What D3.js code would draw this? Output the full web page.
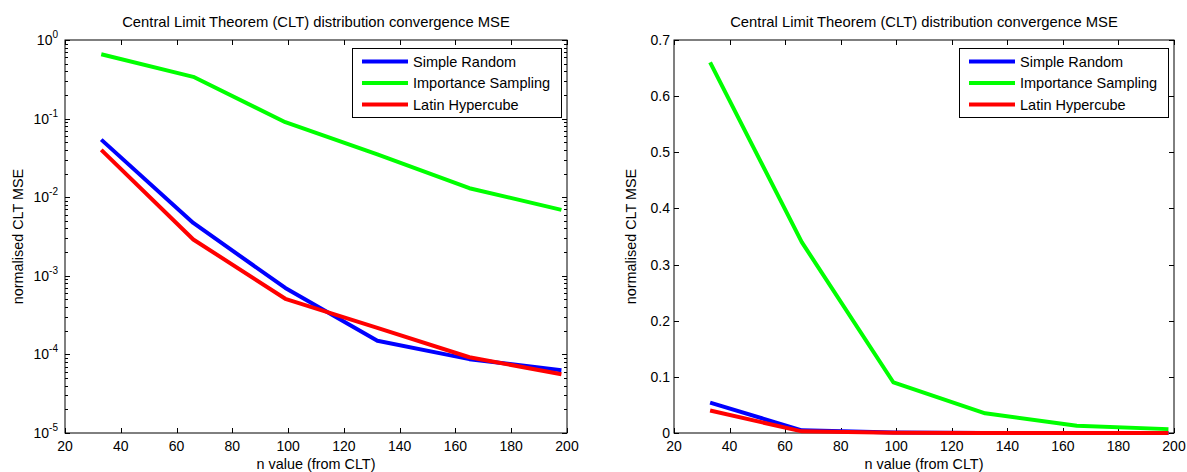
<!DOCTYPE html>
<html>
<head>
<meta charset="utf-8">
<script src="https://cdn.jsdelivr.net/npm/d3@7"></script>
<style>
  body { margin: 0; background: #fff; }
  svg { display: block; font-family: "Liberation Sans", Arial, sans-serif; }
</style>
</head>
<body>
<svg id="chart" width="1187" height="472"></svg>
<script>
// data
var nValues = [33, 66, 99, 132, 165, 198];
var simpleRandom = [0.054, 0.0047, 0.00070, 0.000149, 0.000087, 0.000063];
var importanceSampling = [0.66, 0.34, 0.090, 0.035, 0.013, 0.0069];
var latinHypercube = [0.040, 0.0029, 0.00051, 0.000217, 0.000092, 0.000056];

var seriesNames = ['Simple Random', 'Importance Sampling', 'Latin Hypercube'];
var seriesColors = ['#0000ff', '#00ff00', '#ff0000'];
var seriesValues = [simpleRandom, importanceSampling, latinHypercube];

var xTicks = [20, 40, 60, 80, 100, 120, 140, 160, 180, 200];
var logTicks = [1e-5, 1e-4, 1e-3, 1e-2, 1e-1, 1];
var linTicks = [0, 0.1, 0.2, 0.3, 0.4, 0.5, 0.6, 0.7];

var titleText = 'Central Limit Theorem (CLT) distribution convergence MSE';
var xLabel = 'n value (from CLT)';
var yLabel = 'normalised CLT MSE';

var svg = d3.select('#chart');

function drawPanel(left, right, isLog) {
    var top = 40, bottom = 433;
    var g = svg.append('g');

    var x = d3.scaleLinear().domain([20, 200]).range([left, right]);
    var y = isLog
        ? d3.scaleLog().domain([1e-5, 1]).range([bottom, top])
        : d3.scaleLinear().domain([0, 0.7]).range([bottom, top]);

    // box
    g.append('rect')
        .attr('x', left).attr('y', top)
        .attr('width', right - left).attr('height', bottom - top)
        .attr('fill', 'none').attr('stroke', '#000').attr('stroke-width', 1);

    // x ticks (inward, bottom and top)
    xTicks.forEach(function (t) {
        var px = Math.round(x(t)) + 0.5;
        g.append('line').attr('x1', px).attr('x2', px).attr('y1', bottom).attr('y2', bottom - 5).attr('stroke', '#000');
        g.append('line').attr('x1', px).attr('x2', px).attr('y1', top).attr('y2', top + 5).attr('stroke', '#000');
        g.append('text')
            .attr('x', x(t)).attr('y', 451)
            .attr('text-anchor', 'middle')
            .attr('font-size', 14)
            .text(t);
    });

    if (isLog) {
        var minor = [];
        for (var e = -5; e < 0; e++) {
            for (var m = 2; m <= 9; m++) minor.push(m * Math.pow(10, e));
        }
        minor.forEach(function (t) {
            var py = Math.round(y(t)) + 0.5;
            g.append('line').attr('x1', left).attr('x2', left + 3).attr('y1', py).attr('y2', py).attr('stroke', '#000');
            g.append('line').attr('x1', right).attr('x2', right - 3).attr('y1', py).attr('y2', py).attr('stroke', '#000');
        });
        logTicks.forEach(function (t) {
            var py = Math.round(y(t)) + 0.5;
            g.append('line').attr('x1', left).attr('x2', left + 5).attr('y1', py).attr('y2', py).attr('stroke', '#000');
            g.append('line').attr('x1', right).attr('x2', right - 5).attr('y1', py).attr('y2', py).attr('stroke', '#000');
            var txt = g.append('text')
                .attr('x', left - 7).attr('y', y(t) + 5)
                .attr('text-anchor', 'end')
                .attr('font-size', 14);
            txt.append('tspan').text('10');
            txt.append('tspan')
                .attr('font-size', 10)
                .attr('dy', -7)
                .text(Math.round(Math.log10(t)));
        });
    } else {
        linTicks.forEach(function (t) {
            var py = Math.round(y(t)) + 0.5;
            g.append('line').attr('x1', left).attr('x2', left + 5).attr('y1', py).attr('y2', py).attr('stroke', '#000');
            g.append('line').attr('x1', right).attr('x2', right - 5).attr('y1', py).attr('y2', py).attr('stroke', '#000');
            g.append('text')
                .attr('x', left - 4).attr('y', y(t) + 5)
                .attr('text-anchor', 'end')
                .attr('font-size', 14)
                .text(t);
        });
    }

    // series lines
    var line = d3.line()
        .x(function (d, i) { return x(nValues[i]); })
        .y(function (d) { return y(d); });

    seriesValues.forEach(function (vals, k) {
        g.append('path')
            .datum(vals)
            .attr('d', line)
            .attr('fill', 'none')
            .attr('stroke', seriesColors[k])
            .attr('stroke-width', 4)
            .attr('stroke-linejoin', 'round');
    });

    // title and axis labels
    g.append('text')
        .attr('x', (left + right) / 2).attr('y', 27)
        .attr('text-anchor', 'middle')
        .attr('font-size', 14.8)
        .text(titleText);

    g.append('text')
        .attr('x', (left + right) / 2).attr('y', 469)
        .attr('text-anchor', 'middle')
        .attr('font-size', 14.4)
        .text(xLabel);

    var ylx = isLog ? 23 : left - 38;
    g.append('text')
        .attr('transform', 'translate(' + ylx + ',' + (top + bottom) / 2 + ') rotate(-90)')
        .attr('text-anchor', 'middle')
        .attr('font-size', 14.4)
        .text(yLabel);

    // legend
    var lx = right - 215, ly = 48, lw = 209, lh = 69;
    var leg = g.append('g');
    leg.append('rect')
        .attr('x', lx + 0.5).attr('y', ly + 0.5)
        .attr('width', lw).attr('height', lh)
        .attr('fill', '#fff').attr('stroke', '#000');
    seriesNames.forEach(function (name, k) {
        var ry = ly + 13.5 + k * 21.5;
        leg.append('line')
            .attr('x1', lx + 10).attr('x2', lx + 56)
            .attr('y1', ry).attr('y2', ry)
            .attr('stroke', seriesColors[k]).attr('stroke-width', 4);
        leg.append('text')
            .attr('x', lx + 61).attr('y', ry + 5)
            .attr('font-size', 14.5)
            .text(name);
    });
}

drawPanel(65, 567, true);
drawPanel(674, 1174, false);
</script>
</body>
</html>
